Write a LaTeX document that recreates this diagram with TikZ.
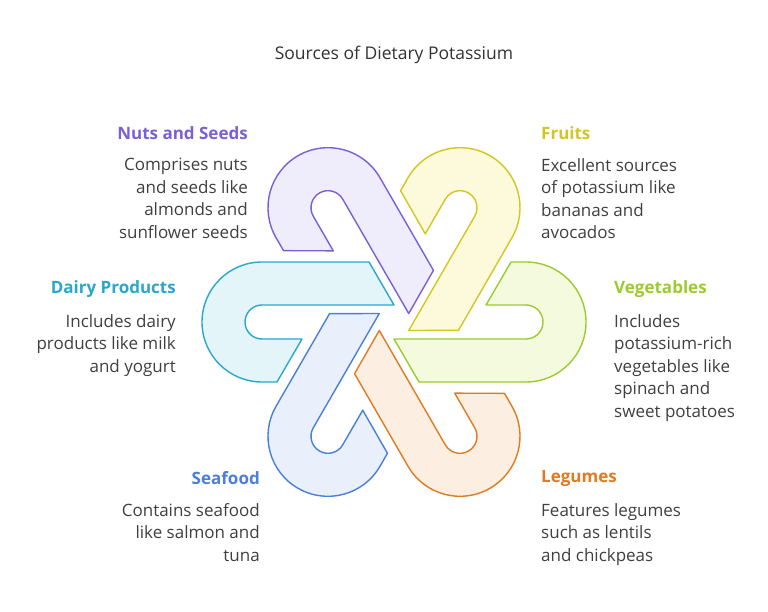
\documentclass[tikz,border=0pt]{standalone}
\usepackage{fontspec}
\setmainfont{Open Sans}
\begin{document}
\begin{tikzpicture}[x=1pt,y=1pt,
  hook/.style={line width=1.4pt,line join=round},
  ttl/.style={font=\fontsize{17}{20}\selectfont\bfseries},
  bod/.style={font=\fontsize{17}{22.5}\selectfont,text=black!75,inner sep=0pt},
]
\definecolor{cN}{HTML}{7B5FD6}\definecolor{fN}{HTML}{EFECFB}
\definecolor{cF}{HTML}{D4C620}\definecolor{fF}{HTML}{FDFADC}
\definecolor{cV}{HTML}{9CCB2E}\definecolor{fV}{HTML}{F3FADE}
\definecolor{cL}{HTML}{E07B22}\definecolor{fL}{HTML}{FCEEE0}
\definecolor{cS}{HTML}{4A7FDB}\definecolor{fS}{HTML}{E9EFFB}
\definecolor{cD}{HTML}{2AA7CC}\definecolor{fD}{HTML}{E4F5FA}
\useasboundingbox (0,0) rectangle (768,611);
\fill[white] (0,0) rectangle (768,611);
\coordinate (c) at (394,289);
\def\hookpath{(-25,60) -- (-132,60) arc[start angle=90,end angle=270,radius=60] -- (-117,-60) -- (-92,-17) -- (-132,-17) arc[start angle=270,end angle=90,radius=17] -- (0,17) -- cycle}
\foreach \ang/\col/\fil in {60/cS/fS,120/cL/fL,-180/cV/fV,-120/cF/fF,-60/cN/fN,0/cD/fD}{
  \draw[hook,draw=\col,fill=\fil,shift={(c)},rotate=\ang] \hookpath;
}
\node[font=\fontsize{17.5}{20}\selectfont,text=black!80] (title) at (394,556) {Sources of Dietary Potassium};
% Nuts
\node[ttl,text=cN,anchor=east,inner sep=0pt] (tN) at (248,478) {Nuts and Seeds};
\node[bod,anchor=north east,align=right] (bN) at (248,453) {Comprises nuts\\and seeds like\\almonds and\\sunflower seeds};
% Fruits
\node[ttl,text=cF,anchor=west,inner sep=0pt] (tF) at (541,478) {Fruits};
\node[bod,anchor=north west,align=left] (bF) at (541,453) {Excellent sources\\of potassium like\\bananas and\\avocados};
% Dairy
\node[ttl,text=cD,anchor=east,inner sep=0pt] (tD) at (176,322) {Dairy Products};
\node[bod,anchor=north east,align=right] (bD) at (176,297) {Includes dairy\\products like milk\\and yogurt};
% Vegetables
\node[ttl,text=cV,anchor=west,inner sep=0pt] (tV) at (614,322) {Vegetables};
\node[bod,anchor=north west,align=left] (bV) at (614,297) {Includes\\potassium-rich\\vegetables like\\spinach and\\sweet potatoes};
% Seafood
\node[ttl,text=cS,anchor=east,inner sep=0pt] (tS) at (260,133) {Seafood};
\node[bod,anchor=north east,align=right] (bS) at (260,108) {Contains seafood\\like salmon and\\tuna};
% Legumes
\node[ttl,text=cL,anchor=west,inner sep=0pt] (tL) at (541,133) {Legumes};
\node[bod,anchor=north west,align=left] (bL) at (541,108) {Features legumes\\such as lentils\\and chickpeas};
\end{tikzpicture}
\end{document}
